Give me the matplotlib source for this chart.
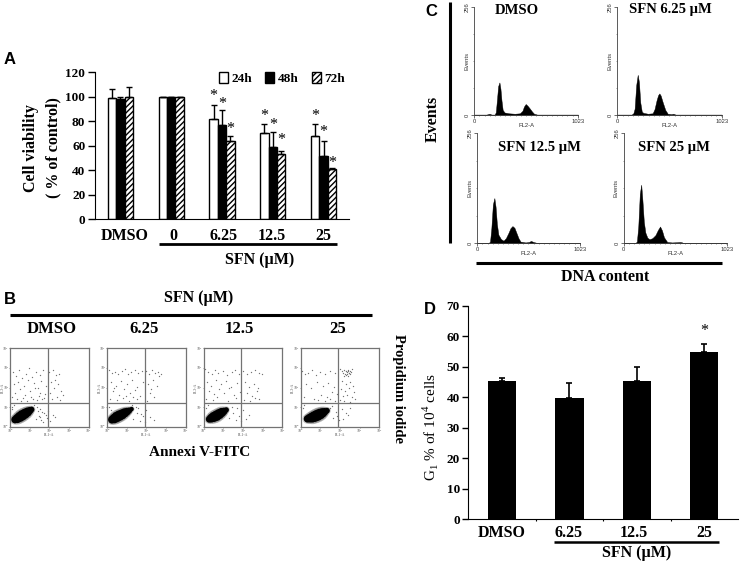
import matplotlib
matplotlib.use('Agg')
import matplotlib.pyplot as plt
import numpy as np

W, H = 740, 563
SERIF = 'Liberation Serif'
SANS = 'Liberation Sans'

# panel A
doses_a = ['DMSO', '0', '6.25', '12.5', '25']
via_24 = [99, 100, 82, 70.5, 68]
via_48 = [98, 100, 77, 59, 52]
via_72 = [100, 100, 64, 53.5, 41]
err_24 = [7, 0, 11.5, 7.5, 10]
err_48 = [1.5, 0, 12, 12.5, 12]
err_72 = [8, 0, 4, 2.5, 0.5]
star_24 = [None, None, 103, 86.5, 86.5]
star_48 = [None, None, 96, 79, 73.7]
star_72 = [None, None, 75.6, 66.7, 48]

# panel D
doses_d = ['DMSO', '6.25', '12.5', '25']
g1_vals = [45.2, 39.8, 45.2, 54.7]
g1_err = [1, 4.8, 4.8, 2.8]

# panel B, FL1 / FL3 in decades, core = dense population with relative density
flow_titles = ['DMSO', '6.25', '12.5', '25']
core1_x = [.25, .38, .5, .62, .75, .88, 1.0, 1.1]
core1_y = [.36, .42, .5, .58, .66, .74, .82, .88]
core1_n = [14, 22, 26, 28, 26, 22, 14, 8]
core2_x = [.25, .38, .5, .62, .75, .88, 1.0, 1.12, 1.25]
core2_y = [.36, .42, .5, .56, .62, .7, .76, .82, .9]
core2_n = [16, 24, 28, 28, 26, 22, 16, 10, 5]
core3_x = [.28, .4, .52, .65, .78, .9, 1.02, 1.15]
core3_y = [.38, .44, .5, .56, .64, .72, .78, .86]
core3_n = [12, 20, 26, 28, 26, 22, 14, 7]
core4_x = [.35, .48, .6, .72, .85, .98, 1.1, 1.22, 1.35]
core4_y = [.4, .44, .47, .52, .58, .64, .7, .76, .82]
core4_n = [14, 20, 26, 30, 32, 30, 24, 15, 8]

dots1_x = [.15, .3, .45, .6, .8, .95, 1.1, 1.3, 1.5, 1.7, .2, .4, .7, .9, 1.2, 1.4, 1.6, 1.85, .25, .5, .75, 1.0, 1.25,
           1.55, 1.8, .35, .65, 1.05, 1.35, 1.65, .1, .55, .85, 1.15, 1.45, 1.75, 2.0, 2.2, 2.35, 2.5, 2.1, 2.3, 2.45,
           2.6, 2.05, 2.25, 2.4, 2.7, 2.15, 2.55, 1.3, 1.45, 1.6, 1.75, 1.9, 2.05, 2.2, 1.5, 1.7, 1.35, 1.95, 2.3, .1,
           .2, .12, 1.2, 1.4, 1.55, 1.65, 1.85]
dots1_y = [2.8, 2.6, 2.9, 2.5, 2.7, 3.0, 2.55, 2.8, 2.65, 2.9, 2.2, 2.3, 2.1, 2.4, 2.25, 2.0, 2.35, 2.1, 1.7, 1.9, 1.6,
           1.8, 1.95, 1.7, 1.65, 1.4, 1.45, 1.5, 1.35, 1.4, 1.5, 1.3, 1.3, 1.4, 1.55, 1.45, 2.8, 2.9, 2.65, 2.7, 2.3,
           2.4, 2.2, 1.8, 1.7, 1.95, 1.5, 1.6, 1.4, 1.35, .4, .55, .35, .7, .45, .3, .6, .9, .25, 1.0, .8, .5, .9, 1.1,
           1.0, 1.1, .8, .5, .75, .6]
dots2_x = [.1, .25, .4, .55, .75, .9, 1.05, 1.2, 1.4, 1.6, 1.8, .2, .45, .7, 1.0, 1.25, 1.55, 1.85, .3, .6, .85, 1.15,
           1.4, 1.7, .15, .5, .8, 1.1, 1.5, .35, .95, 1.3, 2.0, 2.15, 2.3, 2.45, 2.6, 2.75, 2.1, 2.35, 2.55, 2.2, 2.4,
           2.05, 2.65, 2.25, 1.3, 1.5, 1.7, 1.85, 2.0, 2.2, 1.45, 1.6, 1.95, 2.4, .1, .18, 1.25, 1.75]
dots2_y = [2.9, 2.75, 2.8, 2.7, 2.85, 2.95, 2.7, 2.8, 2.9, 2.75, 2.85, 2.3, 2.1, 2.35, 2.2, 2.4, 2.05, 2.3, 1.8, 1.6,
           1.9, 1.7, 1.85, 1.55, 1.4, 1.35, 1.45, 1.3, 1.4, 2.0, 1.55, 1.5, 2.85, 2.7, 2.9, 2.75, 2.8, 2.7, 2.2, 2.4,
           2.1, 1.7, 1.5, 1.3, 2.6, 1.9, .4, .7, .3, .55, .85, .5, 1.0, .95, .25, .35, 1.0, .85, 1.1, .65]
dots3_x = [.05, .2, .4, .55, .75, 1.0, 1.2, 1.45, 1.6, 1.8, .15, .35, .6, .9, 1.15, 1.4, 1.7, .25, .5, .8, 1.05, 1.3,
           1.55, 1.85, .1, .45, .7, 1.25, 1.65, 2.0, 2.2, 2.4, 2.6, 2.8, 2.95, 2.1, 2.3, 2.55, 2.75, 2.2, 2.45, 2.7,
           2.05, 2.35, 2.6, 2.8, 1.3, 1.5, 1.65, 1.8, 2.0, 2.15, 1.45, 1.7, 2.3, .1, .2, 1.9]
dots3_y = [2.95, 2.8, 2.7, 2.9, 2.75, 2.85, 2.65, 2.8, 2.9, 2.7, 2.3, 2.1, 2.4, 2.2, 2.35, 2.05, 2.25, 1.8, 1.65, 1.9,
           1.7, 1.95, 1.6, 1.75, 1.4, 1.35, 1.5, 1.3, 1.45, 2.85, 2.7, 2.8, 2.9, 2.75, 2.7, 2.3, 2.05, 2.2, 2.0, 1.7,
           1.55, 1.8, 1.35, 1.3, 1.45, 1.4, .45, .7, .35, .55, .85, .4, 1.0, .95, .6, .95, 1.1, .3]
dots4_x = [.1, .25, .4, .6, .8, 1.0, 1.25, 1.5, 1.75, .3, .55, .85, 1.15, 1.4, 1.7, .2, .7, 1.05, 1.35, 1.6, 1.85, .9,
           1.25, 1.5, 1.75, 2.0, 2.1, 2.2, 2.3, 2.4, 2.5, 2.6, 2.15, 2.25, 2.35, 2.45, 2.55, 2.2, 2.3, 2.4, 2.5, 2.3,
           2.4, 2.45, 2.35, 2.1, 2.3, 2.5, 2.65, 2.05, 2.25, 2.45, 2.7, 2.15, 2.35, 2.6, 2.0, 2.2, 2.5, 2.75, 1.5, 1.65,
           1.8, 1.95, 2.1, 2.3, 2.5, 1.6, 1.85, 2.15, 2.4, .12, .2]
dots4_y = [2.85, 2.7, 2.75, 2.9, 2.65, 2.8, 2.7, 2.85, 2.75, 2.2, 2.0, 2.3, 2.1, 2.25, 2.05, 1.5, 1.4, 1.6, 1.5, 1.75,
           1.65, 1.35, 1.3, 1.4, 1.3, 2.95, 2.85, 2.9, 2.85, 2.9, 2.85, 2.95, 2.75, 2.7, 2.78, 2.72, 2.8, 2.6, 2.65,
           2.6, 2.68, 2.85, 2.82, 2.75, 2.7, 2.35, 2.2, 2.3, 2.1, 1.9, 1.8, 1.95, 1.75, 1.55, 1.6, 1.5, 1.35, 1.3, 1.25,
           1.4, .95, .45, .75, .35, .9, .7, .95, 1.05, .55, .4, .6, .95, 1.1]
flow_core = [(core1_x, core1_y, core1_n), (core2_x, core2_y, core2_n),
             (core3_x, core3_y, core3_n), (core4_x, core4_y, core4_n)]
flow_dots = [(dots1_x, dots1_y), (dots2_x, dots2_y), (dots3_x, dots3_y), (dots4_x, dots4_y)]
flow_ticks = ['10⁰', '10¹', '10²', '10³', '10⁴']

# panel C, channel / events
hist1_ch = [0, 120, 150, 170, 200, 212, 225, 235, 248, 258, 268, 280, 298, 340, 400, 450, 475, 490, 507, 525, 545, 570,
            589, 620, 1023]
hist1_ev = [1, 1, 3, 1, 1, 6, 40, 68, 77, 62, 35, 12, 6, 4, 3, 4, 10, 20, 26, 22, 16, 8, 3, 1, 1]
hist2_ch = [0, 140, 157, 170, 185, 200, 212, 225, 240, 255, 300, 346, 365, 385, 400, 412, 425, 445, 470, 494, 530, 549,
            570, 1023]
hist2_ev = [1, 1, 4, 15, 70, 95, 78, 30, 8, 5, 3, 4, 14, 35, 47, 51, 46, 30, 12, 3, 2, 3, 1, 1]
hist3_ch = [0, 115, 127, 140, 155, 170, 182, 195, 210, 235, 261, 285, 310, 330, 350, 370, 390, 410, 430, 480, 515, 534,
            560, 593, 1023]
hist3_ev = [1, 1, 4, 35, 90, 105, 85, 45, 20, 10, 6, 12, 24, 35, 40, 36, 24, 12, 4, 2, 3, 5.5, 3, 1, 1]
hist4_ch = [0, 118, 131, 145, 160, 174, 186, 200, 215, 235, 256, 285, 315, 340, 361, 380, 400, 432, 480, 530, 557, 575,
            590, 1023]
hist4_ev = [1, 1, 4, 40, 115, 136, 100, 50, 25, 13, 9.5, 12, 19, 31, 39, 30, 14, 3, 2, 2.5, 3, 2.5, 1, 1]
hist_data = [(hist1_ch, hist1_ev), (hist2_ch, hist2_ev), (hist3_ch, hist3_ev), (hist4_ch, hist4_ev)]


def px_axes(left, right, top, bottom):
    return fig.add_axes([left / W, 1 - bottom / H, (right - left) / W, (bottom - top) / H])


plt.rcParams['font.family'] = [SERIF, 'DejaVu Sans']
plt.rcParams['font.weight'] = 'bold'
plt.rcParams['hatch.linewidth'] = 1.0
plt.rcParams['mathtext.fontset'] = 'custom'
plt.rcParams['mathtext.rm'] = SERIF
fig = plt.figure(figsize=(W / 100, H / 100), dpi=100)

# A
ax = px_axes(95, 349, 72.3, 219.3)
pos = np.arange(len(doses_a))
bw = 1 / 6
ekw = dict(ecolor='k', elinewidth=1, capsize=2.2, capthick=1)
bars_24 = ax.bar(pos - bw, via_24, bw, color='w', edgecolor='k', lw=1, label='24h',
                 yerr=[np.zeros(5), err_24], error_kw=ekw)
bars_48 = ax.bar(pos, via_48, bw, color='k', edgecolor='k', lw=1, label='48h',
                 yerr=[np.zeros(5), err_48], error_kw=ekw)
bars_72 = ax.bar(pos + bw, via_72, bw, color='w', edgecolor='k', lw=1, hatch='//////', label='72h',
                 yerr=[np.zeros(5), err_72], error_kw=ekw)
for off, stars in zip([-bw, 0, bw], [star_24, star_48, star_72]):
    for i, s in enumerate(stars):
        if s is not None:
            ax.annotate('*', (i + off, s), xytext=(0, -2), textcoords='offset points', ha='center', va='center',
                        fontsize=11.5, fontweight='normal', annotation_clip=False)
ax.set_xlim(-0.5, 4.5)
ax.set_ylim(0, 120)
ax.set_yticks(range(0, 121, 20))
ax.set_xticks([])
ax.tick_params(axis='y', labelsize=9.5, length=5, width=1, pad=2)
ax.spines[['top', 'right']].set_visible(False)
ax.patch.set_alpha(0)
ax.legend(handles=[bars_24, bars_48, bars_72], ncols=3, frameon=False, loc='upper right',
          bbox_to_anchor=(0.985, 1.005), fontsize=9.5, handlelength=0.68, handleheight=0.9, handletextpad=0.3,
          columnspacing=0.98, borderpad=0, borderaxespad=0)

# D
ax = px_axes(468.3, 738, 305.7, 519)
pos = np.arange(len(doses_d))
ax.bar(pos, g1_vals, 0.42, color='k', yerr=[np.zeros(4), g1_err],
       error_kw=dict(ecolor='k', elinewidth=1.2, capsize=2.5, capthick=1.2))
ax.text(3, 61.8, '*', ha='center', va='center', fontsize=11.5, fontweight='normal')
ax.set_xlim(-0.5, 3.5)
ax.set_ylim(0, 70)
ax.set_yticks(range(0, 71, 10))
ax.set_xticks([0.5, 1.5, 2.5])
ax.set_xticklabels([])
ax.tick_params(axis='x', length=1.5, width=0.8)
ax.tick_params(axis='y', labelsize=9.5, length=4, width=1, pad=2)
ax.spines[['top', 'right']].set_visible(False)

# B
flow_left = [10, 107, 203.7, 300.5]
for k in range(4):
    ax = px_axes(flow_left[k], flow_left[k] + 78.7, 348.3, 426.7)
    cx, cy, cn = flow_core[k]
    dx, dy = flow_dots[k]
    ax.scatter(cx, cy, s=np.array(cn) * 3.6, c='0.3', alpha=0.3, lw=0)
    ax.scatter(cx, cy, s=np.array(cn) * 2.0, c='k', lw=0)
    ax.scatter(dx, dy, s=0.9, c='0.45', lw=0)
    ax.axvline(1.92, color='0.45', lw=0.9)
    ax.axhline(1.22, color='0.45', lw=0.9)
    ax.set_xlim(0, 4)
    ax.set_ylim(0, 4)
    ax.set_xticks(range(5), flow_ticks)
    ax.set_yticks(range(5), flow_ticks)
    ax.tick_params(length=1, width=0.4, labelsize=2.8, pad=0.3, colors='0.35')
    for lab in ax.get_xticklabels() + ax.get_yticklabels():
        lab.set_fontweight('normal')
    ax.set_xlabel('FL1-A', fontsize=2.8, labelpad=0.3, color='0.35', fontweight='normal')
    ax.set_ylabel('FL3-A', fontsize=2.8, labelpad=-1.2, color='0.35', fontweight='normal')
    for sp in ax.spines.values():
        sp.set_color('0.45')
        sp.set_linewidth(0.9)

# C
hist_box = [(474.3, 578, 6.7, 115), (617.3, 721.7, 6.7, 115), (477.3, 580, 133, 243.3), (623.7, 726.7, 133, 243.3)]
for k in range(4):
    ax = px_axes(*hist_box[k])
    ch, ev = hist_data[k]
    ax.fill_between(ch, ev, 0, color='k', lw=0.3)
    ax.set_xlim(0, 1023)
    ax.set_ylim(0, 256)
    ax.set_xticks([0, 1023], ['0', '1023'])
    ax.set_xticks(np.arange(0, 1024, 51), minor=True)
    ax.set_yticks([0, 256], ['0', '256'])
    ax.set_yticks([64, 128, 192], minor=True)
    ax.tick_params(which='major', length=2, width=0.5, labelsize=4.2, pad=1, colors='0.2')
    ax.tick_params(which='minor', length=1, width=0.4, colors='0.3')
    for lab in ax.get_yticklabels():
        lab.set_rotation(90)
        lab.set_va('center')
    for lab in ax.get_xticklabels() + ax.get_yticklabels():
        lab.set_fontfamily(SANS)
        lab.set_fontweight('normal')
    ax.set_xlabel('FL2-A', fontsize=4.2, labelpad=-1, family=SANS, fontweight='normal', color='0.2')
    ax.set_ylabel('Events', fontsize=4.2, labelpad=-3, family=SANS, fontweight='normal', color='0.2')
    ax.spines[['top', 'right']].set_visible(False)
    for sp in ax.spines.values():
        sp.set_linewidth(0.6)
        sp.set_color('0.25')

# labels and rules, in figure pixels
ov = fig.add_axes([0, 0, 1, 1], zorder=10)
ov.set_xlim(0, W)
ov.set_ylim(H, 0)
ov.axis('off')

for s, x, y in [('A', 10, 59), ('B', 10, 300), ('C', 431, 12), ('D', 430, 310)]:
    ov.text(x, y, s, family=SANS, fontsize=12, ha='center', va='center')

for lab, x in zip(doses_a, [125, 173.5, 224, 272, 323]):
    ov.text(x, 236, lab, fontsize=11.5, ha='center', va='center')
ov.plot([159, 337], [244, 244], color='k', lw=2, solid_capstyle='butt')
ov.text(260, 260, 'SFN (µM)', fontsize=11.5, ha='center', va='center')
ov.text(31, 148, 'Cell viability', fontsize=11.5, rotation=90, ha='center', va='center')
ov.text(53, 148, '( % of control)', fontsize=11.5, rotation=90, ha='center', va='center')

ov.text(199, 298, 'SFN (µM)', fontsize=11.5, ha='center', va='center')
ov.plot([10, 372], [315, 315], color='k', lw=2.2, solid_capstyle='butt')
for lab, x in zip(flow_titles, [52, 144, 239, 338]):
    ov.text(x, 329, lab, fontsize=12, ha='center', va='center')
ov.text(200, 453, 'Annexi V-FITC', fontsize=11, ha='center', va='center')
ov.text(398, 389, 'Propidium iodide', fontsize=10.5, rotation=-90, ha='center', va='center')

ov.plot([450, 450], [2, 243], color='k', lw=2.2, solid_capstyle='butt')
ov.plot([476, 722], [263, 263], color='k', lw=2.2, solid_capstyle='butt')
ov.text(433, 119, 'Events', fontsize=11.5, rotation=90, ha='center', va='center')
ov.text(605, 277, 'DNA content', fontsize=11.5, ha='center', va='center')
for s, x, y in [('DMSO', 517, 10), ('SFN 6.25 µM', 670, 10), ('SFN 12.5 µM', 539, 148), ('SFN 25 µM', 674, 148)]:
    ov.text(x, y, s, fontsize=10.5, ha='center', va='center')

for lab, x in zip(doses_d, [502, 569, 634, 704]):
    ov.text(x, 533, lab, fontsize=11.5, ha='center', va='center')
ov.plot([554, 719], [542, 542], color='k', lw=1.8, solid_capstyle='butt')
ov.text(637, 553, 'SFN (µM)', fontsize=11.5, ha='center', va='center')
ov.text(430, 427, r'G$_{\mathregular{1}}$ % of 10$^{\mathregular{4}}$ cells', fontsize=11, fontweight='normal',
        rotation=90, ha='center', va='center')

fig.savefig('out.png', dpi=100)
